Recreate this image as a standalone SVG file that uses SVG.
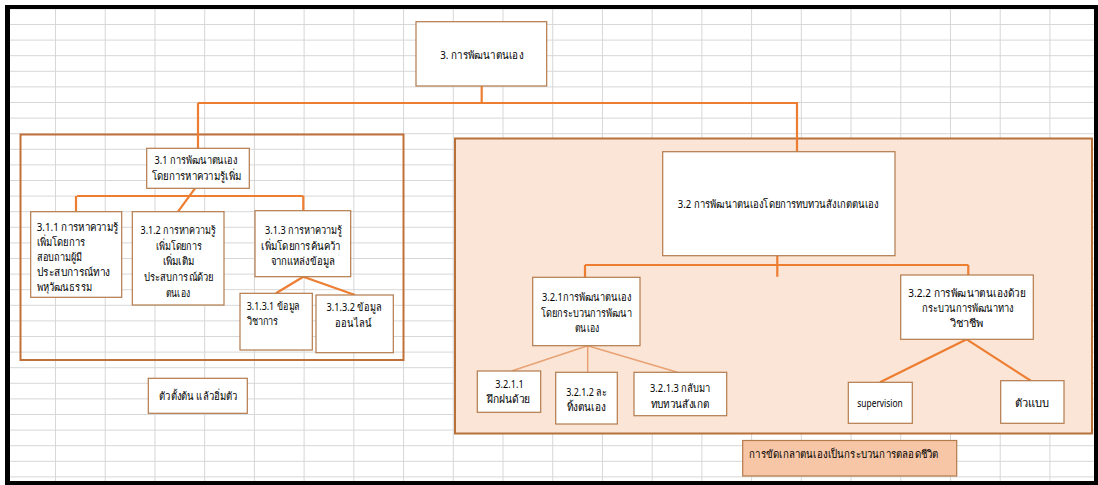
<svg xmlns="http://www.w3.org/2000/svg" width="1098" height="485" viewBox="0 0 1098 485">
<defs>
<pattern id="grid" x="5.3" y="8.4" width="49.72" height="15.6" patternUnits="userSpaceOnUse">
<path d="M0 0.5H49.72M0.5 0V15.6" fill="none" stroke="#d6d6d6" stroke-width="1"/>
</pattern>
</defs>
<style>
.node{fill:#ffffff;stroke:#b37a4c;stroke-width:1.2}
.grp{fill:none;stroke:#c0713a;stroke-width:2}
.grp2{fill:#fbe5d6;stroke:#b8703a;stroke-width:2}
.note{fill:#f7c6a6;stroke:#b37a4c;stroke-width:1.2}
.c{fill:none;stroke:#ed7d31;stroke-width:2.2}
.cl{fill:none;stroke:#e8a273;stroke-width:1.5}
text{font-family:"Noto Sans","DejaVu Sans",sans-serif;font-size:11px;fill:#000000}
.m{text-anchor:middle}
</style>
<rect x="0" y="0" width="1098" height="485" fill="#ffffff"/>
<rect x="7" y="7" width="1089" height="476" fill="url(#grid)"/>
<g id="group-left"><rect class="grp" x="20.5" y="134.5" width="383" height="225.5"/></g>
<g id="group-right"><rect class="grp2" x="455" y="138.5" width="637" height="295"/></g>
<g id="connectors">
<path class="c" d="M481.7 86V103M198 103H798M198 103V148.3M797 103V151.7"/>
<path class="c" d="M77 196H303.3M76 196V211.7M303.3 196V210.7M195 188.3L178 211.7"/>
<path class="c" d="M303.3 276.7L276 293.3M303.3 276.7L355 295"/>
<path class="c" d="M585 265H968.3M585 265V277.3M968.3 265V275M777.3 255.7V276.7"/>
<path class="cl" d="M587.7 345.7L511.7 371M587.7 345.7V372.3M587.7 345.7L677.3 372.3"/>
<path class="c" d="M966.7 339.3L880 382.3M966.7 339.3L1030.7 380.7"/>
</g>
<g id="n3"><rect class="node" x="416" y="21.7" width="130.7" height="64.3"/><text class="m" x="481.7" y="59" textLength="83" lengthAdjust="spacingAndGlyphs">3. การพัฒนาตนเอง</text></g>
<g id="n31"><rect class="node" x="146.7" y="148.3" width="102.6" height="40"/><text class="m" x="196" y="164" textLength="83" lengthAdjust="spacingAndGlyphs">3.1 การพัฒนาตนเอง</text><text class="m" x="196.5" y="180" textLength="89" lengthAdjust="spacingAndGlyphs">โดยการหาความรู้เพิ่ม</text></g>
<g id="n311"><rect class="node" x="30.7" y="211.7" width="91" height="85.6"/>
<text x="36.7" y="231" textLength="81.7" lengthAdjust="spacingAndGlyphs">3.1.1 การหาความรู้</text><text x="36.7" y="246" textLength="48.3" lengthAdjust="spacingAndGlyphs">เพิ่มโดยการ</text><text x="36.7" y="261" textLength="45" lengthAdjust="spacingAndGlyphs">สอบถามผู้มี</text><text x="36.7" y="275.5" textLength="73.3" lengthAdjust="spacingAndGlyphs">ประสบการณ์ทาง</text><text x="36.7" y="290.5" textLength="55" lengthAdjust="spacingAndGlyphs">พหุวัฒนธรรม</text></g>
<g id="n312"><rect class="node" x="132.3" y="211.7" width="91.7" height="93.3"/>
<text class="m" x="178" y="234" textLength="75" lengthAdjust="spacingAndGlyphs">3.1.2 การหาความรู้</text><text class="m" x="179" y="249.5" textLength="46.3" lengthAdjust="spacingAndGlyphs">เพิ่มโดยการ</text><text class="m" x="178.5" y="265" textLength="31.7" lengthAdjust="spacingAndGlyphs">เพิ่มเติม</text><text class="m" x="178.7" y="281" textLength="69.3" lengthAdjust="spacingAndGlyphs">ประสบการณ์ด้วย</text><text class="m" x="177.8" y="296.5" textLength="24.3" lengthAdjust="spacingAndGlyphs">ตนเอง</text></g>
<g id="n313"><rect class="node" x="255" y="210.7" width="95.7" height="66"/>
<text class="m" x="303.3" y="234" textLength="76.7" lengthAdjust="spacingAndGlyphs">3.1.3 การหาความรู้</text><text class="m" x="301" y="249.5" textLength="79.3" lengthAdjust="spacingAndGlyphs">เพิ่มโดยการค้นคว้า</text><text class="m" x="302.8" y="265" textLength="64.3" lengthAdjust="spacingAndGlyphs">จากแหล่งข้อมูล</text></g>
<g id="n3131"><rect class="node" x="240" y="293.3" width="72.3" height="56.7"/><text x="246.7" y="310" textLength="53.3" lengthAdjust="spacingAndGlyphs">3.1.3.1 ข้อมูล</text><text x="246.7" y="324.5" textLength="31.7" lengthAdjust="spacingAndGlyphs">วิชาการ</text></g>
<g id="n3132"><rect class="node" x="316" y="295" width="77.3" height="57.7"/><text class="m" x="354" y="311" textLength="55" lengthAdjust="spacingAndGlyphs">3.1.3.2 ข้อมูล</text><text class="m" x="353.3" y="327" textLength="36.7" lengthAdjust="spacingAndGlyphs">ออนไลน์</text></g>
<g id="nstart"><rect class="node" x="148.3" y="378.3" width="99" height="35"/><text class="m" x="198.3" y="399.5" textLength="78" lengthAdjust="spacingAndGlyphs">ตัวตั้งต้น แล้วอิ่มตัว</text></g>
<g id="n32"><rect class="node" x="662.7" y="151.7" width="232.3" height="104"/><text class="m" x="778.3" y="207.5" textLength="201" lengthAdjust="spacingAndGlyphs">3.2 การพัฒนาตนเองโดยการทบทวนสังเกตตนเอง</text></g>
<g id="n321"><rect class="node" x="532.7" y="277.3" width="107.3" height="68.4"/>
<text class="m" x="586.5" y="301" textLength="89" lengthAdjust="spacingAndGlyphs">3.2.1การพัฒนาตนเอง</text><text class="m" x="586.5" y="317" textLength="91" lengthAdjust="spacingAndGlyphs">โดยกระบวนการพัฒนา</text><text class="m" x="587" y="332" textLength="24.3" lengthAdjust="spacingAndGlyphs">ตนเอง</text></g>
<g id="n322"><rect class="node" x="900.7" y="275" width="132.6" height="64.3"/>
<text class="m" x="966.7" y="297" textLength="116.7" lengthAdjust="spacingAndGlyphs">3.2.2 การพัฒนาตนเองด้วย</text><text class="m" x="967.5" y="312" textLength="91.7" lengthAdjust="spacingAndGlyphs">กระบวนการพัฒนาทาง</text><text class="m" x="966.7" y="326.5" textLength="33.3" lengthAdjust="spacingAndGlyphs">วิชาชีพ</text></g>
<g id="n3211"><rect class="node" x="477.3" y="371" width="63.4" height="41.3"/><text class="m" x="509.5" y="388" textLength="28.3" lengthAdjust="spacingAndGlyphs">3.2.1.1</text><text class="m" x="508.7" y="402.5" textLength="42.7" lengthAdjust="spacingAndGlyphs">ฝึกฝนด้วย</text></g>
<g id="n3212"><rect class="node" x="555.7" y="372.3" width="61.6" height="51.7"/><text class="m" x="586.5" y="396" textLength="40.7" lengthAdjust="spacingAndGlyphs">3.2.1.2 ละ</text><text class="m" x="586.2" y="411" textLength="39" lengthAdjust="spacingAndGlyphs">ทิ้งตนเอง</text></g>
<g id="n3213"><rect class="node" x="634" y="372.3" width="92.7" height="43.4"/><text class="m" x="680" y="391.5" textLength="60" lengthAdjust="spacingAndGlyphs">3.2.1.3 กลับมา</text><text class="m" x="680" y="407.5" textLength="58.7" lengthAdjust="spacingAndGlyphs">ทบทวนสังเกต</text></g>
<g id="nsup"><rect class="node" x="848.3" y="382.3" width="64" height="41"/><text class="m" x="880" y="407" textLength="45.3" lengthAdjust="spacingAndGlyphs">supervision</text></g>
<g id="nmodel"><rect class="node" x="1000.7" y="380.7" width="63.3" height="42.6"/><text class="m" x="1032.2" y="407" textLength="34.3" lengthAdjust="spacingAndGlyphs">ตัวแบบ</text></g>
<g id="nlife"><rect class="note" x="742.7" y="440.5" width="214" height="35.5"/><text x="749.3" y="457.5" textLength="189" lengthAdjust="spacingAndGlyphs">การขัดเกลาตนเองเป็นกระบวนการตลอดชีวิต</text></g>
<g id="frame" fill="none" stroke="#000000">
<rect x="7" y="7" width="1089" height="476" stroke-width="4"/>
<line x1="7.5" y1="5" x2="7.5" y2="485" stroke-width="5"/>
</g>
</svg>
